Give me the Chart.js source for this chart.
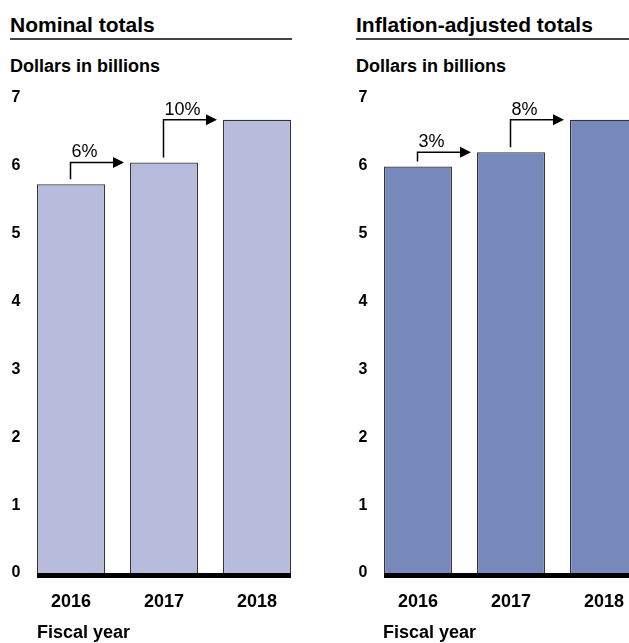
<!DOCTYPE html>
<html>
<head>
<meta charset="utf-8">
<script src="https://cdn.jsdelivr.net/npm/chart.js@4.4.0/dist/chart.umd.min.js"></script>
<style>
  body { margin: 0; width: 629px; height: 643px; overflow: hidden; background: #fff; position: relative;
         font-family: "Liberation Sans", Arial, sans-serif; color: #000; }
  .txt { position: absolute; white-space: nowrap; line-height: 1; font-weight: bold; }
  .title { font-size: 21px; top: 14px; }
  .unit { font-size: 18px; top: 57px; }
  .foot { font-size: 18px; top: 623px; }
  .rule { position: absolute; top: 38px; height: 2px; background: #444; }
  .box { position: absolute; top: 0; width: 320px; height: 643px; }
</style>
</head>
<body>
<div class="txt title" style="left:10px">Nominal totals</div>
<div class="rule" style="left:10px;width:282px"></div>
<div class="txt unit" style="left:10px">Dollars in billions</div>
<div class="box" style="left:0"><canvas id="nominalChart"></canvas></div>
<div class="txt foot" style="left:37px">Fiscal year</div>

<div class="txt title" style="left:356px">Inflation-adjusted totals</div>
<div class="rule" style="left:356px;width:290px"></div>
<div class="txt unit" style="left:356px">Dollars in billions</div>
<div class="box" style="left:347px"><canvas id="adjustedChart"></canvas></div>
<div class="txt foot" style="left:383px">Fiscal year</div>

<script>
const years = ['2016', '2017', '2018'];
const nominal = [5.73, 6.05, 6.68];
const adjusted = [5.99, 6.20, 6.68];
const nominalChange = ['6%', '10%'];
const adjustedChange = ['3%', '8%'];
const yMax = 7;

// baseline + arrows with % change
const annotate = {
  id: 'annotate',
  afterDatasetsDraw(chart) {
    const ctx = chart.ctx;
    const meta = chart.getDatasetMeta(0);
    const y = chart.scales.y;
    const vals = chart.data.datasets[0].data;
    const labels = chart.options.plugins.annotate.labels;
    const bars = meta.data;
    const left = bars[0].x - bars[0].width / 2;
    const right = bars[bars.length - 1].x + bars[bars.length - 1].width / 2;
    const zero = y.getPixelForValue(0);

    ctx.save();
    ctx.fillStyle = '#000';
    ctx.fillRect(left, zero, right - left, 5);

    ctx.strokeStyle = '#000';
    ctx.lineWidth = 1.5;
    for (let i = 0; i < labels.length; i++) {
      const x0 = Math.round(bars[i].x) - 0.5;
      const yStart = y.getPixelForValue(vals[i]) - 5;
      const yEnd = y.getPixelForValue(vals[i + 1]);
      const tip = bars[i + 1].x - bars[i + 1].width / 2 - 6;
      ctx.beginPath();
      ctx.moveTo(x0, yStart);
      ctx.lineTo(x0, yEnd);
      ctx.lineTo(tip - 8, yEnd);
      ctx.stroke();
      ctx.beginPath();
      ctx.moveTo(tip - 11, yEnd - 5.5);
      ctx.lineTo(tip, yEnd);
      ctx.lineTo(tip - 11, yEnd + 5.5);
      ctx.closePath();
      ctx.fill();

      ctx.font = '18px "Liberation Sans", Arial, sans-serif';
      ctx.textAlign = 'left';
      ctx.textBaseline = 'alphabetic';
      ctx.fillText(labels[i], x0 + 1, yEnd - 5);
    }
    ctx.restore();
  }
};

function makeChart(id, values, color, changes) {
  return new Chart(document.getElementById(id), {
    type: 'bar',
    data: {
      labels: years,
      datasets: [{
        data: values,
        backgroundColor: color,
        borderColor: '#333',
        borderWidth: 1.2,
        categoryPercentage: 1,
        barPercentage: 0.731
      }]
    },
    options: {
      responsive: true,
      maintainAspectRatio: false,
      animation: false,
      layout: { padding: { top: 98, right: 16.5, bottom: 0, left: 0 } },
      plugins: {
        legend: { display: false },
        tooltip: { enabled: false },
        annotate: { labels: changes }
      },
      scales: {
        x: {
          grid: { display: false, drawTicks: false },
          border: { display: false },
          ticks: { color: '#000', padding: 18, font: { family: '"Liberation Sans", Arial, sans-serif', size: 18, weight: 'bold' } },
          afterFit(scale) { scale.height = 70; }
        },
        y: {
          min: 0,
          max: yMax,
          grid: { display: false, drawTicks: false },
          border: { display: false },
          ticks: { stepSize: 1, color: '#000', padding: 4, font: { family: '"Liberation Sans", Arial, sans-serif', size: 16, weight: 'bold' } },
          afterFit(scale) { scale.width = 24.5; }
        }
      }
    },
    plugins: [annotate]
  });
}

makeChart('nominalChart', nominal, '#b8bcdc', nominalChange);
makeChart('adjustedChart', adjusted, '#7789ba', adjustedChange);
</script>
</body>
</html>
